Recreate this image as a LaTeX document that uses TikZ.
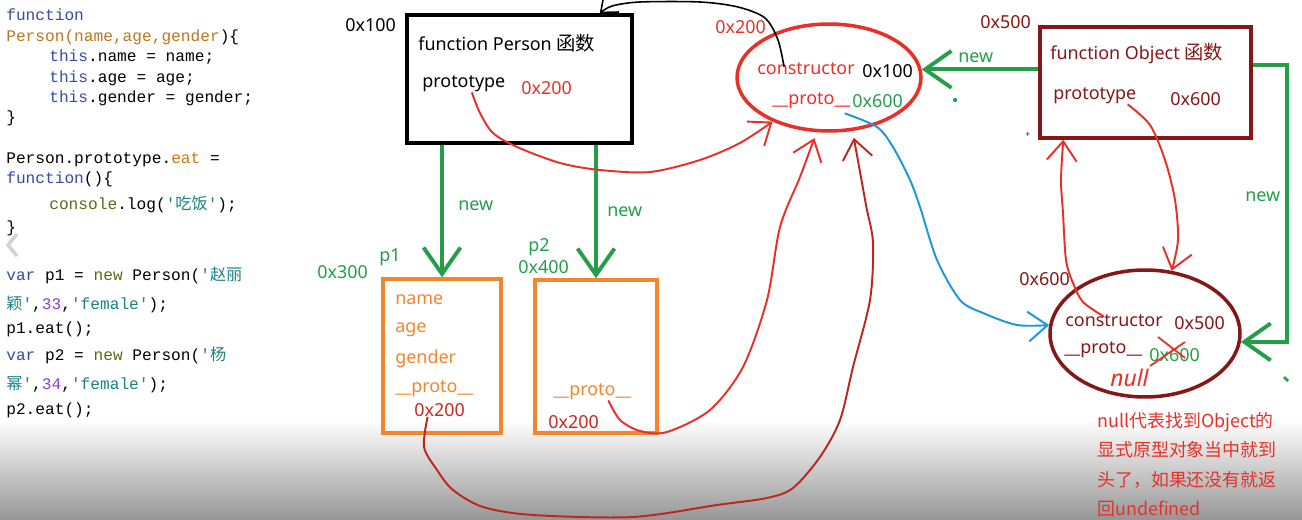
\documentclass[tikz,border=0pt]{standalone}
\usepackage{fontspec}
\setmainfont{Noto Sans}
\setmonofont{Liberation Mono}
\newfontfamily\cjk{Noto Sans CJK SC}
\usetikzlibrary{arrows.meta, shapes.geometric, calc}

\definecolor{jsblue}{RGB}{55,75,170}
\definecolor{jsbrown}{RGB}{185,120,35}
\definecolor{jsorange}{RGB}{205,120,25}
\definecolor{jsteal}{RGB}{30,130,130}
\definecolor{jsolive}{RGB}{95,105,25}
\definecolor{jspurple}{RGB}{150,60,200}
\definecolor{hotred}{RGB}{232,48,40}
\definecolor{deepred}{RGB}{135,22,22}
\definecolor{newgreen}{RGB}{36,158,72}
\definecolor{objorange}{RGB}{245,133,45}
\definecolor{linkblue}{RGB}{25,150,225}

\newcommand\jskw[1]{\textcolor{jsblue}{#1}}
\newcommand\jsstr[1]{\textcolor{jsteal}{#1}}

\tikzset{
  txt/.style={inner sep=0pt, anchor=west, font=\fontsize{10.2}{12}\selectfont},
  code/.style={inner sep=0pt, anchor=base west, font=\fontsize{9.2}{11}\selectfont\ttfamily},
  newarrow/.style={newgreen, line width=2.2pt, -{Straight Barb[length=15pt, width=21pt]}},
  redarrow/.style={hotred, line width=1.1pt, -{Straight Barb[length=11pt, width=17pt]}},
}

\begin{document}
\begin{tikzpicture}[x=0.02cm, y=-0.02cm]
  \useasboundingbox (0,0) rectangle (1302,520);
  \fill[white] (0,0) rectangle (1302,520);
  \shade[top color=white, bottom color={rgb,255:red,150;green,150;blue,150}] (0,420) rectangle (1302,520);

  % code on the left
  \node[code] (c1) at (6,21) {\jskw{function}};
  \node[code] (c2) at (6,42) {\textcolor{jsbrown}{Person(name,age,gender})\{};
  \node[code] (c3) at (49,62) {\jskw{this}.name = name;};
  \node[code] (c4) at (49,83) {\jskw{this}.age = age;};
  \node[code] (c5) at (49,103) {\jskw{this}.gender = gender;};
  \node[code] (c6) at (6,123) {\}};
  \node[code] (c7) at (6,164) {Person.prototype.\textcolor{jsorange}{eat} =};
  \node[code] (c8) at (6,184) {\jskw{function}()\{};
  \node[code] (c9) at (49,210) {\textcolor{jsolive}{console}.log(\jsstr{'{\cjk 吃饭}'});};
  \node[code] (c10) at (6,233) {\}};
  \node[code] (c11) at (6,281) {\jskw{var} p1 = \textcolor{jsolive}{new} Person(\jsstr{'{\cjk 赵丽}}};
  \node[code] (c12) at (6,310) {\jsstr{{\cjk 颖}'},\textcolor{jspurple}{33},\jsstr{'female'});};
  \node[code] (c13) at (6,334) {p1.eat();};
  \node[code] (c14) at (6,360) {\jskw{var} p2 = \textcolor{jsolive}{new} Person(\jsstr{'{\cjk 杨}}};
  \node[code] (c15) at (6,389) {\jsstr{{\cjk 幂}'},\textcolor{jspurple}{34},\jsstr{'female'});};
  \node[code] (c16) at (6,414) {p2.eat();};
  \draw[gray!35, line width=2pt] (17,234) -- (8,245) -- (17,256);

  % Person function
  \node[draw, line width=2pt, minimum width=4.5cm, minimum height=2.56cm] (personbox) at (519.5,79) {};
  \node[txt] (paddr0) at (345,25) {0x100};
  \node[txt] (pfun) at (418,43) {function Person {\cjk\fontsize{11}{12}\selectfont 函数}};
  \node[txt] (ptype) at (422,84) {prototype};
  \node[txt, text=hotred] (paddr) at (521,88) {0x200};

  % Person.prototype
  \node[ellipse, draw=hotred, line width=2pt, inner sep=0pt, minimum width=3.68cm, minimum height=2.14cm] (protoell) at (829,77.5) {};
  \node[txt, text=hotred] (eaddr0) at (715,27) {0x200};
  \node[txt, text=hotred] (econstr) at (757,69) {constructor};
  \node[txt] (ector) at (862,71) {0x100};
  \node[txt, text=hotred] (eproto) at (772,101) {\_\_proto\_\_};
  \node[txt, text=newgreen] (eaddr) at (852,101) {0x600};

  % Object function
  \node[draw=deepred, line width=2pt, minimum width=4.22cm, minimum height=2.22cm] (objbox) at (1145.5,82.5) {};
  \node[txt, text=deepred] (oaddr0) at (980,22) {0x500};
  \node[txt, text=deepred] (ofun) at (1050,54) {function Object {\cjk\fontsize{11}{12}\selectfont 函数}};
  \node[txt, text=deepred] (oproto) at (1053,96) {prototype};
  \node[txt, text=deepred] (oaddr) at (1170,99) {0x600};

  % Object.prototype
  \node[ellipse, draw=deepred, line width=2pt, inner sep=0pt, minimum width=3.8cm, minimum height=2.54cm] (objell) at (1145,333.5) {};
  \node[txt, text=deepred] (laddr0) at (1019,279) {0x600};
  \node[txt, text=deepred] (oconstr) at (1065,321) {constructor};
  \node[txt, text=deepred] (octor) at (1174,323) {0x500};
  \node[txt, text=deepred] (oeproto) at (1064,350) {\_\_proto\_\_};
  \node[txt, text=newgreen] (onull) at (1149,355) {0x600};
  \draw[hotred, line width=1pt] (1158,337) -- (1185,358) (1185,342) -- (1150,366);
  \node[txt, text=hotred, font=\fontsize{13}{13}\selectfont\itshape] (nullword) at (1110,378) {null};
  \node[inner sep=0pt, anchor=north west, align=left, text=hotred, font=\fontsize{10.2}{16.7}\selectfont\cjk] (note) at (1097,412)
    {null代表找到Object的\\显式原型对象当中就到\\头了，如果还没有就返\\回undefined};

  % instances
  \node[draw=objorange, line width=2pt, minimum width=2.36cm, minimum height=3.08cm] (p1box) at (442,356) {};
  \node[draw=objorange, line width=2pt, minimum width=2.44cm, minimum height=3.06cm] (p2box) at (596,356.5) {};
  \node[txt, text=newgreen] at (317,272) {0x300};
  \node[txt, text=newgreen] at (379,257) {p1};
  \node[txt, text=newgreen] at (528,247) {p2};
  \node[txt, text=newgreen] at (518,267) {0x400};
  \foreach \f/\y in {name/300, age/330, gender/359, \_\_proto\_\_/389}
    \node[txt, text=objorange] at (395,\y) {\f};
  \node[txt, text=hotred!85!black] (p1addr) at (414,410) {0x200};
  \node[txt, text=objorange] (p2proto) at (553,392) {\_\_proto\_\_};
  \node[txt, text=hotred!85!black] (p2addr) at (548,422) {0x200};

  % new arrows
  \draw[newarrow] (personbox.south -| p1box.north) -- (p1box.north);
  \draw[newarrow] (personbox.south -| p2box.north) -- (p2box.north);
  \node[txt, text=newgreen] at (458,206) {new};
  \node[txt, text=newgreen] at (607,212) {new};
  \draw[newarrow] (objbox.west |- protoell.5) -- (protoell.5);
  \node[txt, text=newgreen] at (958,58) {new};
  \coordinate (objout) at ([yshift=0.35cm]objbox.east);
  \coordinate (gright) at (1287,200);
  \draw[newarrow] (objout) -- (objout -| gright) |- (objell.-5);
  \node[txt, text=newgreen] at (1245,197) {new};

  % prototype links
  \draw[redarrow] plot[smooth] coordinates {($(ptype.south)+(8,0)$) (480,113) (493,133) (517,147) (560,163) (600,170) (650,172) (700,160) (740,143) (protoell.218)};
  \draw[redarrow] plot[smooth] coordinates {($(p2proto.south)+(16,0)$) (620,420) (640,431) (667,432) (710,410) (743,367) (767,300) (780,227) (800,177) ([yshift=-0.12cm]protoell.255)};
  \draw[redarrow, hotred!80!black] plot[smooth] coordinates {($(p1addr.south)+(-12,0)$) (424,447) (437,470) (453,490) (483,507) (533,515) (633,517) (717,505) (767,498) (793,488) (820,457) (840,420) (853,367) (870,300) (873,243) (866,205) ([yshift=-0.14cm]protoell.295)};
  \draw[redarrow] plot[smooth] coordinates {($(oproto.south east)+(-9,0)$) (1150,125) (1165,160) (1175,200) (1178,240) (objell.67)};
  \draw[redarrow] plot[smooth] coordinates {($(oconstr.north)+(-10,2)$) (1083,302) (1073,283) (1066,260) (1063,213) (1061,180) ($(objbox.south west)+(25,0)$)};
  \draw[linkblue, line width=1.1pt, -{Straight Barb[length=11pt, width=17pt]}] plot[smooth] coordinates {($(eproto.south east)+(-6,4)$) (877,127) (893,147) (910,180) (920,207) (937,260) (960,300) (983,313) (1017,325) (objell.175)};
  \draw[line width=0.9pt, -{Straight Barb[length=8pt, width=13pt]}] plot[smooth] coordinates {($(econstr.north west)+(27,4)$) (778,40) (765,18) (738,7) (700,2) (640,2) (612,6) ($(personbox.north east)+(-34,0)$)};

  % stray marks
  \fill[newgreen] (955,100) circle (1.2pt);
  \node[text=blue, inner sep=0pt, font=\tiny] at (1028,135) {+};
  \draw[newgreen, line width=1.5pt] (1284,377) -- (1288,381);
\end{tikzpicture}
\end{document}
